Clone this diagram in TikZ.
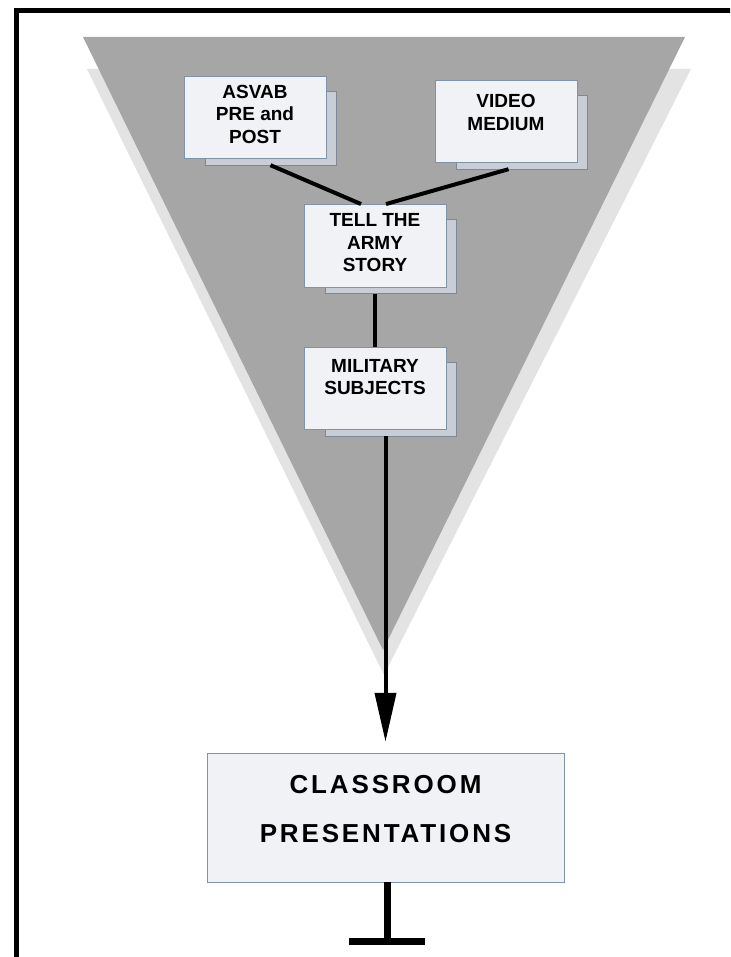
\documentclass[tikz,border=0pt]{standalone}
\usepackage{fontspec}
\setmainfont{Liberation Sans}
\newfontfamily\widefont[LetterSpace=11]{Liberation Sans}
\usetikzlibrary{positioning}
\usetikzlibrary{arrows.meta}
\usetikzlibrary{backgrounds}
\definecolor{funneldark}{HTML}{A6A6A6}
\definecolor{funnellight}{HTML}{E3E3E3}
\definecolor{pagefill}{HTML}{F0F2F5}
\definecolor{pageline}{HTML}{7F93A8}
\definecolor{backfill}{HTML}{C9CED6}
\definecolor{backline}{HTML}{7D8894}
\tikzset{
    page/.style = {rectangle, draw=pageline, fill=pagefill, inner sep=0pt,
        minimum width=142pt, align=center, text height=50.5pt, text depth=31.5pt,
        font=\bfseries\fontsize{19}{22.5}\selectfont},
    tallpage/.style = {page, text height=67.5pt, text depth=15pt},
    pageback/.style = {rectangle, draw=backline, fill=backfill, inner sep=0pt,
        minimum width=131pt, minimum height=74pt},
    stage/.style = {rectangle, draw=pageline, fill=pagefill, inner sep=0pt,
        minimum width=357pt, align=center, text height=89pt, text depth=40pt,
        font=\widefont\bfseries\fontsize{26}{49}\selectfont},
    link/.style = {line width=4pt},
    flow/.style = {line width=4pt, -{Triangle[length=49pt, width=21pt]}}}

\begin{document}
\begin{tikzpicture}[x=1pt, y=-1pt, on grid]
    \useasboundingbox (0,0) rectangle (730,957);
    \clip (0,0) rectangle (730,957);
    \node[tallpage] (tell) at (375,245.5) {TELL THE\\ARMY\\STORY};
    \node[tallpage] (asvab) [above left=128.5pt and 120pt of tell] {ASVAB\\PRE and\\POST};
    \node[page] (video) [above right=124.5pt and 131pt of tell] {VIDEO\\MEDIUM};
    \node[page, text height=47.5pt, text depth=34.5pt] (mil) [below=142.5pt of tell] {MILITARY\\SUBJECTS};
    \node[stage] (class) at (385.5,817.5) {CLASSROOM\\PRESENTATIONS};
    \begin{pgfonlayer}{background}
        % funnel
        \fill[funnellight] (87,69) -- (691,69) -- (384,675) -- cycle;
        \fill[funneldark] (83,37) -- (685,37) -- (383,650) -- cycle;
        \foreach \n in {asvab,video,tell,mil}
            \node[pageback] (\n back) at ([shift={(15.5pt,-11pt)}]\n.center) {};
    \end{pgfonlayer}
    \draw[line width=5pt] (16,960) -- (16,11) -- (735,11);
    \draw[link] (asvabback.south) -- ([xshift=-14pt]tell.north);
    \draw[link] ([xshift=-13pt]videoback.south) -- ([xshift=11pt]tell.north);
    \draw[link] (tellback.south -| mil.north) -- (mil.north);
    \draw[flow] (milback.south -| class.north) -- ([yshift=11pt]class.north);
    \coordinate (stop) at (387,941);
    \draw[line width=7pt] (class.south -| stop) -- (stop);
    \draw[line width=7pt] ([xshift=-38pt]stop) -- ([xshift=38pt]stop);
\end{tikzpicture}
\end{document}
